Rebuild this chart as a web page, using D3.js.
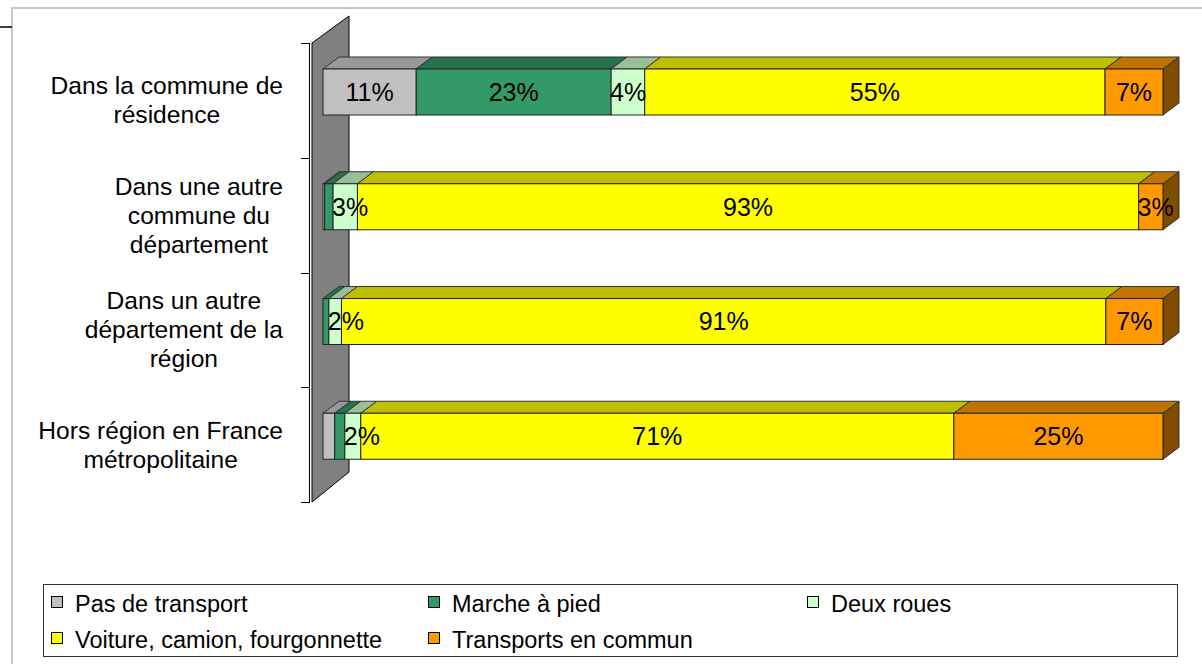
<!DOCTYPE html>
<html>
<head>
<meta charset="utf-8">
<script src="https://cdn.jsdelivr.net/npm/d3@7"></script>
<style>
  body { margin: 0; background: #fff; }
  text { font-family: "Liberation Sans", Arial, sans-serif; fill: #000; }
</style>
</head>
<body>
<div id="chart"></div>
<script>
// categories (each label split into its lines)
const categories = [
    ['Dans la commune de', 'résidence'],
    ['Dans une autre', 'commune du', 'département'],
    ['Dans un autre', 'département de la', 'région'],
    ['Hors région en France', 'métropolitaine']
];

const seriesNames = ['Pas de transport', 'Marche à pied', 'Deux roues',
    'Voiture, camion, fourgonnette', 'Transports en commun'];

// shares in %, one value per category
const pasTransport = [11.1, 0.2, 0, 1.4];
const marche = [23.2, 1.0, 0.7, 1.2];
const deuxRoues = [4.0, 2.9, 1.5, 1.9];
const voiture = [54.8, 93.0, 91.0, 70.6];
const transports = [6.9, 2.9, 6.8, 24.9];

const frontColors = ['#c0c0c0', '#339966', '#ccffcc', '#ffff00', '#ff9900'];
const topColors = ['#989898', '#26734d', '#99bf99', '#bfbf00', '#bf7300'];
const sideColor = '#804d00';

const width = 1202;
const height = 664;
const depthX = 16, depthY = 12; // 3D offset of bars

const svg = d3.select('#chart').append('svg')
    .attr('width', width)
    .attr('height', height);

// outer frame
svg.append('path')
    .attr('d', 'M12,664 L12,8 L1202,8')
    .attr('fill', 'none')
    .attr('stroke', '#c8c8c8')
    .attr('stroke-width', 2);
svg.append('line')
    .attr('x1', 0).attr('x2', 12).attr('y1', 27).attr('y2', 27)
    .attr('stroke', '#000').attr('stroke-width', 1.5);

const keys = categories.map((c, i) => i);
const y = d3.scaleBand().domain(keys).range([43, 502]);
const x = d3.scaleLinear().domain([0, 100]).range([323, 1163]);

// back wall
svg.append('path')
    .attr('d', 'M312,43 L349,16 L349,472 L312,502 Z')
    .attr('fill', '#808080')
    .attr('stroke', '#000')
    .attr('stroke-width', 1);

// category axis
svg.append('line')
    .attr('x1', 309.5).attr('x2', 309.5).attr('y1', 43).attr('y2', 502)
    .attr('stroke', '#000');
const tickYs = keys.map(k => y(k)).concat([y.range()[1]]);
svg.selectAll('.tick')
    .data(tickYs)
    .enter()
    .append('line')
    .attr('x1', 301).attr('x2', 310)
    .attr('y1', d => Math.round(d) + 0.5).attr('y2', d => Math.round(d) + 0.5)
    .attr('stroke', '#000');

// category labels: lines centred in a block right-aligned at x=283
const fontCat = 24.6;
categories.forEach((lines, i) => {
    const g = svg.append('g');
    const lh = 29;
    const yc = y(i) + y.bandwidth() / 2;
    const texts = lines.map((l, j) => g.append('text')
        .attr('y', yc + (j - (lines.length - 1) / 2) * lh)
        .attr('dy', '0.35em')
        .attr('text-anchor', 'middle')
        .style('font-size', fontCat + 'px')
        .text(l));
    const maxW = d3.max(texts, t => t.node().getComputedTextLength());
    texts.forEach(t => t.attr('x', 283 - maxW / 2));
});

// stacked 3D bars
const rows = keys.map(i => [pasTransport[i], marche[i], deuxRoues[i], voiture[i], transports[i]]);

rows.forEach((vals, i) => {
    const yt = y(i) + 26;
    const yb = yt + 46;
    let acc = 0;
    const segs = vals.map((v, s) => {
        const seg = { s: s, v: v, x0: x(acc), x1: x(acc + v) };
        acc += v;
        return seg;
    }).filter(d => d.v > 0);

    const g = svg.append('g');
    // top faces
    g.selectAll('.top')
        .data(segs)
        .enter()
        .append('path')
        .attr('d', d => `M${d.x0},${yt} L${d.x0 + depthX},${yt - depthY} L${d.x1 + depthX},${yt - depthY} L${d.x1},${yt} Z`)
        .attr('fill', d => topColors[d.s])
        .attr('stroke', '#333')
        .attr('stroke-width', 1)
        .attr('stroke-linejoin', 'round');
    // right side of the last segment
    const last = segs[segs.length - 1];
    g.append('path')
        .attr('d', `M${last.x1},${yt} L${last.x1 + depthX},${yt - depthY} L${last.x1 + depthX},${yb - depthY} L${last.x1},${yb} Z`)
        .attr('fill', sideColor)
        .attr('stroke', '#333')
        .attr('stroke-width', 1);
    // front faces
    g.selectAll('.front')
        .data(segs)
        .enter()
        .append('rect')
        .attr('x', d => d.x0)
        .attr('y', yt)
        .attr('width', d => d.x1 - d.x0)
        .attr('height', yb - yt)
        .attr('fill', d => frontColors[d.s])
        .attr('stroke', '#222')
        .attr('stroke-width', 1);
    // value labels
    g.selectAll('.lbl')
        .data(segs.filter(d => d.v >= 1.5))
        .enter()
        .append('text')
        .attr('x', d => Math.max((d.x0 + d.x1) / 2, d.x0 + 17))
        .attr('y', (yt + yb) / 2)
        .attr('dy', '0.35em')
        .attr('text-anchor', 'middle')
        .style('font-size', '25px')
        .text(d => Math.round(d.v) + '%');
});

// legend
svg.append('rect')
    .attr('x', 43.5).attr('y', 584.5)
    .attr('width', 1134).attr('height', 72)
    .attr('fill', '#fff')
    .attr('stroke', '#333');

const legendCols = [51, 428, 807];
const legendRows = [612, 648];
const legend = svg.selectAll('.legend')
    .data(seriesNames)
    .enter()
    .append('g')
    .attr('transform', (d, i) => `translate(${legendCols[i % 3]}, ${legendRows[Math.floor(i / 3)]})`);

legend.append('rect')
    .attr('x', 0.5).attr('y', -15.5)
    .attr('width', 11).attr('height', 11)
    .attr('fill', (d, i) => frontColors[i])
    .attr('stroke', '#000');

legend.append('text')
    .attr('x', 24)
    .attr('y', 0)
    .style('font-size', '23.5px')
    .text(d => d);
</script>
</body>
</html>
